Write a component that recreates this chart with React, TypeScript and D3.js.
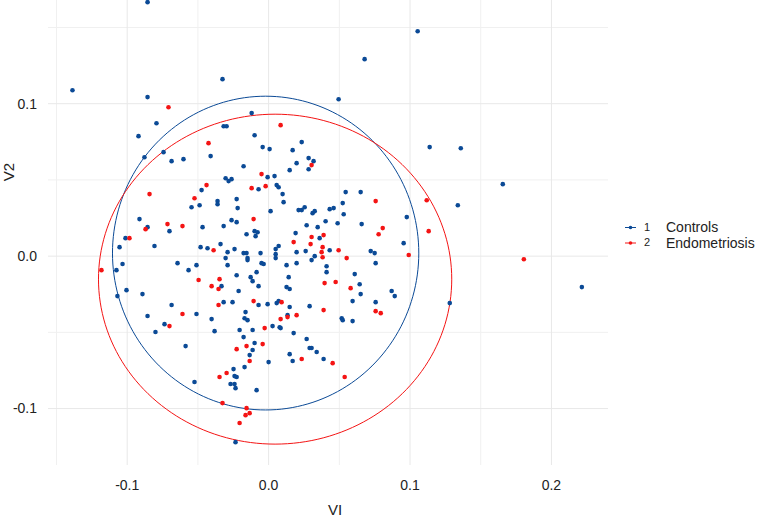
import React from "react";
import * as d3 from "d3";

const controlsX = [-0.0856,-0.1387,-0.0856,-0.0326,-0.0120,-0.0793,-0.0920,-0.0318,-0.0297,-0.0099,-0.0878,-0.0743,-0.0686,-0.0602,-0.0410,-0.0042,0.0007,0.0170,-0.0177,0.0198,0.0149,-0.0007,0.0042,-0.0304,-0.0283,-0.0262,0.1054,0.0679,0.0495,0.1139,0.1359,0.0234,0.0283,0.0318,0.0283,-0.0474,-0.0071,-0.0361,-0.0361,-0.0226,-0.0488,-0.0545,-0.0219,-0.0913,-0.0856,-0.0701,-0.0467,-0.0318,-0.0262,-0.0226,-0.0099,-0.0078,-0.0156,-0.0092,-0.1012,-0.1054,-0.0807,-0.0481,-0.0432,-0.0340,-0.0290,-0.0241,-0.0177,-0.0156,-0.0149,-0.0304,-0.0057,0.0057,0.0071,0.0099,0.0106,0.0014,0.0545,0.0651,0.0524,0.0212,0.0234,0.0255,0.0311,0.0326,0.0432,0.0460,0.0531,0.0403,0.0488,0.0658,0.0977,0.0269,0.0347,0.0191,0.0361,0.0071,0.0050,0.0198,0.0262,0.0432,0.0326,0.0722,0.0750,0.0955,0.0050,0.1656,0.1338,0.2215,0.1281,0.0757,0.0609,0.0644,0.0651,0.0594,0.0757,0.0870,0.0892,0.0517,0.0524,0.0594,0.0410,0.0410,0.0290,0.0304,0.0198,0.0127,0.0142,0.0127,0.0149,0.0149,0.0078,0.0177,0.0269,0.0290,0.0304,-0.0007,0.0057,0.0071,0.0134,0.0028,0.0340,0.0149,0.0170,0.0389,0.0000,-0.1076,-0.1033,-0.1005,-0.1069,-0.0892,-0.0856,-0.0686,-0.0736,-0.0800,-0.0644,-0.0566,-0.0510,-0.0333,-0.0290,-0.0226,-0.0149,-0.0050,-0.0035,-0.0085,-0.0127,-0.0113,-0.0071,-0.0212,-0.0318,-0.0255,-0.0071,-0.0510,-0.0403,-0.0382,-0.0163,-0.0170,-0.0149,-0.0205,-0.0113,-0.0177,-0.0099,-0.0113,-0.0134,-0.0170,-0.0248,-0.0241,-0.0226,-0.0269,-0.0241,-0.0234,-0.0085,-0.0587,-0.0524,-0.0234,0.0050,0.0085];
const controlsY = [0.1666,0.1088,0.1043,0.1161,0.0938,0.0872,0.0787,0.0852,0.0852,0.0793,0.0649,0.0682,0.0623,0.0636,0.0656,0.0715,0.0702,0.0695,0.0590,0.0610,0.0564,0.0518,0.0525,0.0511,0.0492,0.0505,0.1475,0.1292,0.1029,0.0715,0.0708,0.0748,0.0643,0.0623,0.0570,0.0433,0.0439,0.0361,0.0341,0.0374,0.0334,0.0321,0.0315,0.0243,0.0190,0.0164,0.0190,0.0197,0.0236,0.0223,0.0164,0.0157,0.0144,0.0131,0.0118,0.0059,0.0066,0.0059,0.0052,0.0079,0.0026,0.0046,0.0020,0.0020,-0.0013,-0.0013,0.0020,0.0466,0.0452,0.0407,0.0354,0.0295,0.0420,0.0420,0.0348,0.0302,0.0302,0.0321,0.0282,0.0295,0.0308,0.0315,0.0275,0.0229,0.0216,0.0210,0.0256,0.0203,0.0190,0.0151,0.0118,0.0066,0.0046,0.0026,0.0033,0.0039,0.0000,0.0033,0.0020,0.0085,-0.0013,0.0472,0.0334,-0.0203,-0.0308,-0.0046,-0.0118,-0.0184,-0.0249,-0.0295,-0.0302,-0.0229,-0.0262,-0.0407,-0.0420,-0.0426,-0.0066,-0.0105,-0.0328,-0.0026,-0.0046,-0.0059,-0.0138,-0.0203,-0.0216,-0.0334,-0.0466,-0.0505,-0.0544,-0.0603,-0.0603,-0.0315,-0.0308,-0.0295,-0.0387,-0.0459,-0.0629,-0.0643,-0.0688,-0.0675,-0.0695,-0.0092,-0.0052,-0.0223,-0.0262,-0.0249,-0.0393,-0.0321,-0.0446,-0.0498,-0.0046,-0.0092,-0.0059,-0.0197,-0.0059,-0.0125,-0.0026,-0.0046,-0.0052,-0.0105,-0.0138,-0.0164,-0.0197,-0.0229,-0.0302,-0.0302,-0.0321,-0.0380,-0.0413,-0.0492,-0.0367,-0.0407,-0.0420,-0.0485,-0.0485,-0.0531,-0.0570,-0.0616,-0.0649,-0.0728,-0.0741,-0.0787,-0.0793,-0.0839,-0.0839,-0.0866,-0.0879,-0.0590,-0.0826,-0.1220,0.0013,-0.0472];

const endoX = [-0.0708,0.0085,-0.0425,-0.0050,0.0304,-0.0439,-0.0021,-0.0120,-0.0842,-0.0524,-0.0715,-0.0609,-0.0870,-0.0106,-0.0984,-0.0389,0.0757,0.1118,0.1132,0.0304,0.0389,0.0177,0.0807,0.0778,0.0297,0.0382,0.0375,0.0495,0.0382,0.0552,0.0991,0.1805,0.0580,0.0757,0.0793,0.0474,0.0396,0.0389,0.0092,0.0134,0.0085,0.0198,-0.0028,0.0234,0.0453,0.0538,-0.1182,-0.0609,-0.0701,-0.0495,-0.0403,-0.0347,-0.0354,-0.0106,-0.0354,-0.0042,-0.0156,-0.0226,-0.0134,-0.0297,-0.0347,-0.0326,-0.0156,-0.0134,-0.0163,-0.0205];
const endoY = [0.0977,0.0859,0.0741,0.0538,0.0597,0.0466,0.0459,0.0446,0.0407,0.0380,0.0210,0.0197,0.0177,0.0243,0.0118,0.0039,0.0361,0.0367,0.0164,0.0125,0.0138,0.0092,0.0184,0.0144,0.0079,0.0059,0.0026,0.0039,-0.0007,-0.0013,0.0007,-0.0020,-0.0210,-0.0361,-0.0374,-0.0170,-0.0177,-0.0354,-0.0302,-0.0400,-0.0413,-0.0387,-0.0472,-0.0675,-0.0702,-0.0793,-0.0092,-0.0380,-0.0459,-0.0157,-0.0197,-0.0151,-0.0216,-0.0295,-0.0321,-0.0577,-0.0590,-0.0610,-0.0688,-0.0767,-0.0793,-0.0964,-0.0997,-0.1030,-0.1043,-0.1095];

// ellipse summaries: [cx, cy, rx, ry]
const controlsEllipse = [-0.0021, 0.0020, 0.1083, 0.1029];
const endoEllipse = [0.0046, -0.0151, 0.1249, 0.1082];

const groupCodes = ["1", "2"];
const groupNames = ["Controls", "Endometriosis"];
const xMajor = [-0.1, 0.0, 0.1, 0.2];
const xMinor = [-0.15, -0.05, 0.05, 0.15];
const yMajor = [-0.1, 0.0, 0.1];
const yMinor = [-0.05, 0.05, 0.15];

const BLUE = "#0b4a96";
const RED = "#f41414";

export default function App() {
  const x = d3.scaleLinear().domain([-0.156, 0.24]).range([48, 608]);
  const y = d3.scaleLinear().domain([-0.137, 0.168]).range([465, 0]);
  const fmt = (v: number) => d3.format(".1f")(v).replace("\u2212", "-");
  const font = "'Liberation Sans', Arial, sans-serif";
  const groups = [
    { xs: controlsX, ys: controlsY, color: BLUE, ell: controlsEllipse },
    { xs: endoX, ys: endoY, color: RED, ell: endoEllipse },
  ];
  const ellipsePath = (e: number[]) => {
    const pts: [number, number][] = d3.range(0, 361, 2).map((a) => {
      const t = (a * Math.PI) / 180;
      return [x(e[0] + e[2] * Math.cos(t)), y(e[1] + e[3] * Math.sin(t))];
    });
    return d3.line()(pts) || "";
  };
  const [x0, x1] = x.range();
  const [y0, y1] = y.range();
  return (
    <div style={{ position: "absolute", left: 0, top: 0 }}>
      <svg width={763} height={517} style={{ display: "block", background: "#fff" }} fontFamily={font}>
        {xMinor.map((v) => (
          <line key={"xm" + v} x1={x(v)} x2={x(v)} y1={y1} y2={y0} stroke="#f0f0f0" strokeWidth={1} />
        ))}
        {yMinor.map((v) => (
          <line key={"ym" + v} x1={x0} x2={x1} y1={y(v)} y2={y(v)} stroke="#f0f0f0" strokeWidth={1} />
        ))}
        {xMajor.map((v) => (
          <line key={"xM" + v} x1={x(v)} x2={x(v)} y1={y1} y2={y0} stroke="#e8e8e8" strokeWidth={1} />
        ))}
        {yMajor.map((v) => (
          <line key={"yM" + v} x1={x0} x2={x1} y1={y(v)} y2={y(v)} stroke="#e8e8e8" strokeWidth={1} />
        ))}
        {groups.map((g, gi) => (
          <path key={"e" + gi} d={ellipsePath(g.ell)} fill="none" stroke={g.color} strokeWidth={1} />
        ))}
        {groups.map((g, gi) =>
          g.xs.map((xv, i) => (
            <circle key={gi + "-" + i} cx={x(xv)} cy={y(g.ys[i])} r={2.3} fill={g.color} />
          ))
        )}
        {yMajor.map((v) => (
          <text key={"yl" + v} x={37} y={y(v)} dy="0.35em" textAnchor="end" fontSize={14} fill="#222">
            {fmt(v)}
          </text>
        ))}
        {xMajor.map((v) => (
          <text key={"xl" + v} x={x(v)} y={485} dy="0.35em" textAnchor="middle" fontSize={14} fill="#222">
            {fmt(v)}
          </text>
        ))}
        <text x={335} y={510} dy="0.35em" textAnchor="middle" fontSize={15} fill="#222">VI</text>
        <text transform="translate(9,172) rotate(-90)" dy="0.35em" textAnchor="middle" fontSize={15} fill="#222">V2</text>
        {groupNames.map((n, i) => (
          <g key={"lg" + i} transform={`translate(0, ${227.5 + i * 15.5})`}>
            <line x1={625} x2={636} y1={0} y2={0} stroke={groups[i].color} strokeWidth={1} />
            <circle cx={630.5} cy={0} r={1.8} fill={groups[i].color} />
            <text x={644} y={0} dy="0.3em" fontSize={11} fill="#222">{groupCodes[i]}</text>
            <text x={666} y={0} dy="0.35em" fontSize={14} fill="#222">{n}</text>
          </g>
        ))}
      </svg>
    </div>
  );
}
